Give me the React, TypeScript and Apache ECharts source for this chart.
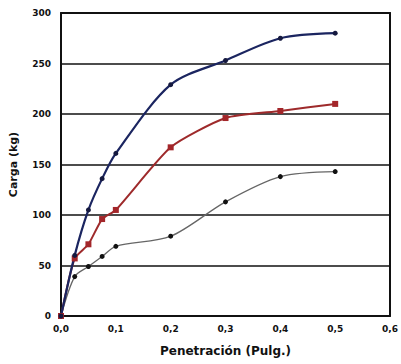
import React, { useEffect, useRef } from "react";
import * as echarts from "echarts";

const penetracion = [0, 0.025, 0.05, 0.075, 0.1, 0.2, 0.3, 0.4, 0.5];
const serieAzul = [0, 60, 105, 136, 161, 229, 253, 275, 280];
const serieRoja = [0, 57, 71, 96, 105, 167, 196, 203, 210];
const serieGris = [0, 39, 49, 59, 69, 79, 113, 138, 143];

const toPairs = (ys: number[]) => penetracion.map((x, i) => [x, ys[i]]);

export default function App() {
  const ref = useRef<HTMLDivElement>(null);
  useEffect(() => {
    if (!ref.current) return;
    const chart = echarts.init(ref.current, undefined, { renderer: "svg" });
    const labelFont = {
      fontFamily: "DejaVu Sans, Verdana, sans-serif",
      fontWeight: "bold" as const,
      color: "#111",
    };
    chart.setOption({
      animation: false,
      backgroundColor: "#fff",
      grid: { left: 60, right: 8, top: 13, bottom: 48 },
      xAxis: [
        {
          type: "value",
          min: 0,
          max: 0.6,
          interval: 0.1,
          name: "Penetración (Pulg.)",
          nameLocation: "middle",
          nameGap: 29,
          nameTextStyle: { ...labelFont, fontSize: 12 },
          axisLine: { onZero: false, lineStyle: { color: "#111", width: 2 } },
          axisTick: { show: false },
          splitLine: { show: false },
          axisLabel: {
            ...labelFont,
            fontSize: 9,
            margin: 8,
            formatter: (v: number) => v.toFixed(1).replace(".", ","),
          },
        },
        {
          type: "value",
          position: "top",
          min: 0,
          max: 0.6,
          interval: 0.1,
          axisLine: { show: true, onZero: false, lineStyle: { color: "#111", width: 2 } },
          axisTick: { show: false },
          axisLabel: { show: false },
          splitLine: { show: false },
        },
      ],
      yAxis: [
        {
          type: "value",
          min: 0,
          max: 300,
          interval: 50,
          name: "Carga (kg)",
          nameLocation: "middle",
          nameGap: 42,
          nameTextStyle: { ...labelFont, fontSize: 11 },
          axisLine: { show: true, onZero: false, lineStyle: { color: "#111", width: 2 } },
          axisTick: { show: false },
          splitLine: { show: true, lineStyle: { color: "#111", width: 1.5 } },
          axisLabel: { ...labelFont, fontSize: 9, margin: 10 },
        },
        {
          type: "value",
          position: "right",
          min: 0,
          max: 300,
          interval: 50,
          axisLine: { show: true, onZero: false, lineStyle: { color: "#111", width: 2 } },
          axisTick: { show: false },
          axisLabel: { show: false },
          splitLine: { show: false },
        },
      ],
      series: [
        {
          type: "line",
          data: toPairs(serieGris),
          smooth: 0.3,
          symbol: "circle",
          symbolSize: 5,
          lineStyle: { color: "#666", width: 1.3 },
          itemStyle: { color: "#111" },
        },
        {
          type: "line",
          data: toPairs(serieRoja),
          smooth: 0.2,
          symbol: "rect",
          symbolSize: 6,
          lineStyle: { color: "#9e2a2b", width: 2 },
          itemStyle: { color: "#a3262a" },
        },
        {
          type: "line",
          data: toPairs(serieAzul),
          smooth: 0.3,
          symbol: "circle",
          symbolSize: 5,
          lineStyle: { color: "#1b2560", width: 2.2 },
          itemStyle: { color: "#15193f" },
        },
      ],
    });
    return () => chart.dispose();
  }, []);
  return <div ref={ref} style={{ width: 401, height: 364, position: "absolute", left: 0, top: 0 }} />;
}
